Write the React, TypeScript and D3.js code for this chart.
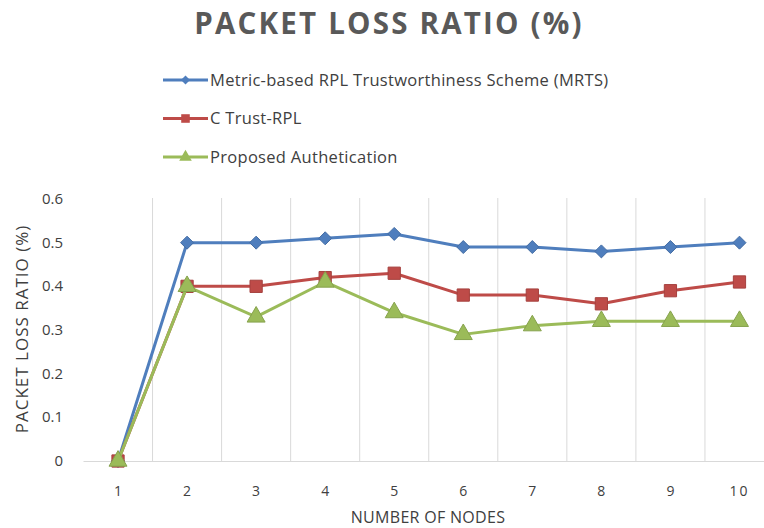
import React from "react";
import * as d3 from "d3";

const categories = ["1", "2", "3", "4", "5", "6", "7", "8", "9", "10"];
const mrts = [0, 0.5, 0.5, 0.51, 0.52, 0.49, 0.49, 0.48, 0.49, 0.5];
const cTrust = [0, 0.4, 0.4, 0.42, 0.43, 0.38, 0.38, 0.36, 0.39, 0.41];
const proposed = [0, 0.4, 0.33, 0.41, 0.34, 0.29, 0.31, 0.32, 0.32, 0.32];
const yTicks = [0, 0.1, 0.2, 0.3, 0.4, 0.5, 0.6];
const seriesNames = [
  "Metric-based RPL Trustworthiness Scheme (MRTS)",
  "C Trust-RPL",
  "Proposed Authetication",
];

const W = 764;
const H = 528;
const FONT = "'Open Sans', 'DejaVu Sans', sans-serif";

const diamond = (r: number) => `M0,${-r}L${r},0L0,${r}L${-r},0Z`;

export default function App() {
  const x = d3.scaleBand<string>().domain(categories).range([83.5, 774]).padding(0);
  const y = d3.scaleLinear().domain([0, 0.6]).range([461, 199]);
  const cx = (c: string) => (x(c) as number) + x.bandwidth() / 2;

  const series = [
    { name: seriesNames[0], values: mrts, color: "#4F7EBD", marker: "diamond" },
    { name: seriesNames[1], values: cTrust, color: "#BE4B48", marker: "square" },
    { name: seriesNames[2], values: proposed, color: "#9BBB59", marker: "triangle" },
  ];

  const line = d3
    .line<number>()
    .x((_, i) => cx(categories[i]))
    .y((d) => y(d));

  const markerPath = (type: string, scale = 1) => {
    if (type === "diamond") return diamond(6.5 * scale);
    if (type === "square") return d3.symbol(d3.symbolSquare, 150 * scale * scale)();
    return d3.symbol(d3.symbolTriangle, 140 * scale * scale)();
  };

  const gridXs = categories.slice(1).map((c) => x(c) as number);

  return (
    <svg width={W} height={H} style={{ position: "absolute", left: 0, top: 0, background: "#fff" }}>
      <rect width={W} height={H} fill="#fff" />
      <text x={389} y={34} textAnchor="middle" fontFamily={FONT} fontWeight="bold" fontSize={29.5} fill="#595959" letterSpacing={2.2}>
        PACKET LOSS RATIO (%)
      </text>
      {series.map((s, i) => {
        const ly = 80 + i * 38.5;
        return (
          <g key={s.name}>
            <line x1={163} x2={208} y1={ly} y2={ly} stroke={s.color} strokeWidth={3} />
            <path d={markerPath(s.marker, 0.7)!} transform={`translate(185.5,${ly})`} fill={s.color} />
            <text x={210} y={ly + 5.5} fontFamily={FONT} fontSize={16.5} fill="#404040" letterSpacing={0.3}>
              {s.name}
            </text>
          </g>
        );
      })}
      {gridXs.map((gx, i) => (
        <line key={i} x1={gx} x2={gx} y1={198} y2={461} stroke="#d9d9d9" strokeWidth={1} />
      ))}
      <line x1={83.5} x2={774} y1={461.5} y2={461.5} stroke="#d9d9d9" strokeWidth={1} />
      {yTicks.map((t) => (
        <text key={t} x={63} y={y(t) + 5} textAnchor="end" fontFamily={FONT} fontSize={15} fill="#404040">
          {t === 0 ? "0" : t.toFixed(1)}
        </text>
      ))}
      {categories.map((c) => (
        <text key={c} x={cx(c)} y={496} textAnchor="middle" fontFamily={FONT} fontSize={14} fill="#404040" letterSpacing={c === "10" ? 2 : 0}>
          {c}
        </text>
      ))}
      <text x={428} y={523} textAnchor="middle" fontFamily={FONT} fontSize={16} fill="#404040" letterSpacing={0.3}>
        NUMBER OF NODES
      </text>
      <text transform="translate(28,329) rotate(-90)" textAnchor="middle" fontFamily={FONT} fontSize={17} fill="#404040" letterSpacing={1}>
        PACKET LOSS RATIO (%)
      </text>
      {series.map((s) => (
        <g key={s.name}>
          <path d={line(s.values)!} fill="none" stroke={s.color} strokeWidth={3} strokeLinejoin="round" />
          {s.values.map((v, i) => (
            <path key={i} d={markerPath(s.marker)!} transform={`translate(${cx(categories[i])},${y(v)})`} fill={s.color} stroke={d3.color(s.color)!.darker(0.4).toString()} strokeWidth={1} />
          ))}
        </g>
      ))}
    </svg>
  );
}
